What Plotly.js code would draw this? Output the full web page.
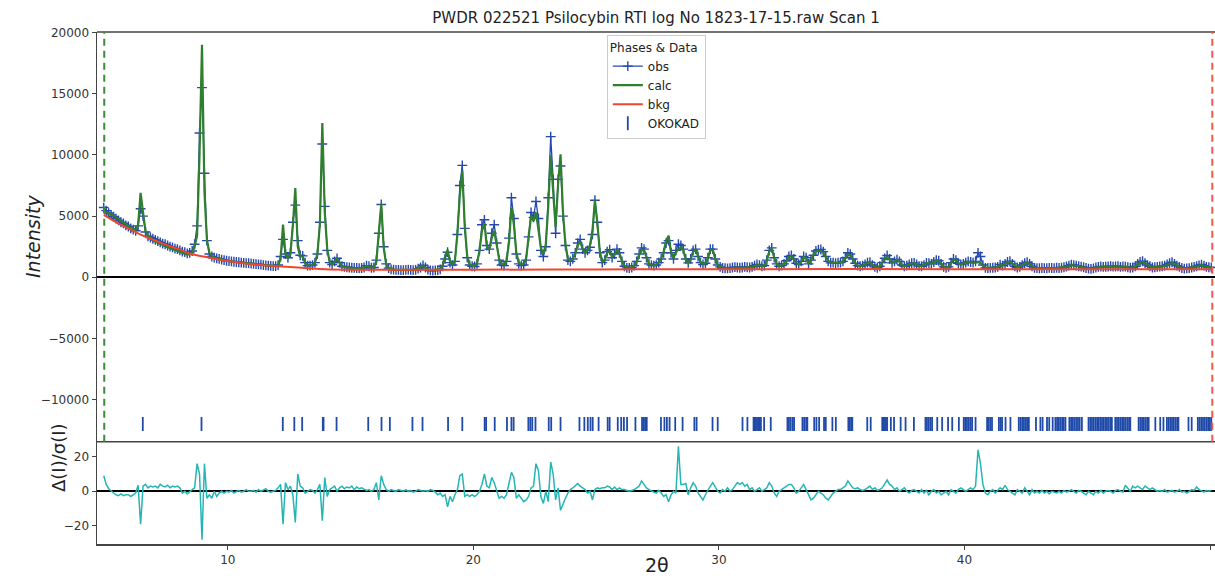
<!DOCTYPE html>
<html>
<head>
<meta charset="utf-8">
<script src="https://cdn.plot.ly/plotly-3.0.1.min.js"></script>
<style>html,body{margin:0;padding:0;background:#fff;}#chart{width:1215px;height:588px;}</style>
</head>
<body>
<div id="chart"></div>
<script>
// ---- Data (2-theta scan, constant step) ----
const tthStart = 4.95;
const tthStep = 0.1;

const obs = [
5700,5450,5250,5100,4950,4800,4650,4500,4400,4250,
4150,4000,3900,3800,4200,5600,5000,3700,3350,3250,
3150,3050,2950,2850,2750,2700,2600,2500,2450,2350,
2300,2200,2100,2050,1950,2000,2150,2700,4200,11800,
15500,8500,3000,1900,1700,1600,1550,1500,1450,1400,
1350,1320,1300,1270,1250,1230,1200,1180,1160,1150,
1120,1100,1080,1050,1030,1000,980,960,940,920,
920,1000,1700,3100,1900,1600,2000,4500,5900,3000,
1800,1750,1200,950,950,1000,1200,1900,4500,10900,
5800,2200,1200,1050,1300,1550,1200,900,850,820,
800,780,770,760,750,760,800,950,900,780,
800,1400,3600,5950,2500,1100,750,650,620,600,
600,590,580,600,620,600,580,600,700,800,
980,800,620,560,550,560,580,650,900,1500,
2050,1200,1000,1300,3500,7500,9150,4000,1600,1000,
900,880,1100,2200,4300,4700,2600,2300,3600,4300,
2800,1400,1000,950,1300,3200,6500,4800,1900,1100,
950,1000,1400,3300,5300,4900,6200,4800,2200,1700,
2500,6500,11500,8000,3600,8000,9100,5000,2600,1400,
1300,1500,2000,2800,3100,2300,2000,2200,2450,3500,
6300,4500,2000,1200,1400,2100,2250,1600,1900,2300,
2000,1300,900,770,760,800,950,1300,1900,2400,
2300,1600,1100,1000,960,1000,1200,1500,2000,2800,
3000,2000,1500,2200,2700,2600,2300,1500,1180,1500,
2200,2300,1700,1200,1050,1150,1600,2300,2300,1500,
1000,850,760,740,730,750,800,830,800,780,
800,850,820,800,850,950,1050,1000,900,950,
1400,2200,2400,1600,1100,900,950,1100,1350,1700,
1780,1500,1150,1050,1300,1700,1600,1100,1400,1800,
2150,2250,2270,2100,1700,1300,1180,1200,1150,1200,
1200,1300,1600,2000,1900,1500,1150,950,900,950,
1050,1200,1230,1000,850,780,900,1200,1550,1780,
1500,1180,1300,1450,1300,1000,900,950,1050,1150,
1180,1050,920,900,1000,1180,1150,1100,1250,1400,
1350,1100,850,770,850,1200,1500,1400,1150,1040,
1100,1200,1300,1250,1200,1300,2000,1700,1000,770,
760,770,780,800,850,1040,950,1100,1250,1310,
1100,900,800,850,1000,1150,1230,1100,900,770,
750,740,760,750,740,770,760,750,780,760,
780,820,880,950,1040,1000,950,900,870,820,
760,700,680,720,800,850,880,850,860,880,
900,870,880,900,850,880,870,820,780,800,
900,1100,1250,1310,1150,1000,900,800,820,850,
880,900,950,1050,1150,1230,1100,950,850,760,
700,720,750,800,850,900,980,1040,950,850,
820,800
];

const calc = [
5450,5300,5200,5150,5050,4900,4750,4600,4500,4350,
4200,4050,3950,3850,4300,6900,5300,3800,3400,3250,
3000,2900,2800,2700,2600,2550,2450,2380,2320,2250,
2150,2060,1980,1920,1860,1880,2000,2500,3400,10000,
19000,7000,3100,2000,1750,1620,1560,1500,1460,1410,
1340,1320,1300,1270,1250,1225,1200,1180,1160,1145,
1115,1100,1080,1050,1030,1005,985,965,945,930,
920,980,1500,4300,1900,1550,1900,4200,7300,2500,
1700,1700,1150,950,950,1000,1200,1900,4300,12600,
5300,2300,1250,1050,1250,1500,1200,900,830,800,
780,760,750,740,740,750,790,930,880,770,
780,1250,3900,6000,2400,1050,740,660,630,610,
620,610,600,610,620,610,600,620,760,850,
950,760,620,580,570,570,600,700,1000,1700,
2250,1350,1050,1350,3600,6700,8700,4200,1700,1050,
950,920,1150,2150,3800,4400,2500,2250,3200,3800,
2700,1500,1100,1050,1350,2800,5700,4300,2000,1200,
1050,1150,1550,3300,5000,4600,5300,3900,2400,1900,
2700,5800,10000,7000,4100,7600,10050,5300,2700,1500,
1350,1550,1900,2600,2950,2300,2000,2250,2600,3800,
6300,4400,2100,1250,1400,2000,2150,1650,1850,2200,
1950,1350,950,800,780,800,930,1250,1800,2250,
2200,1550,1100,1000,980,1050,1250,1550,2100,3000,
3400,2100,1550,2050,2300,2450,2200,1450,1150,1450,
2100,2250,1750,1250,1100,1150,1550,2200,2250,1500,
1000,860,770,740,730,740,780,800,780,770,
780,820,800,790,830,930,1020,980,890,940,
1350,2100,2300,1650,1100,920,950,1080,1300,1650,
1750,1480,1150,1050,1250,1650,1580,1150,1350,1850,
2100,2200,2150,2000,1700,1350,1200,1220,1180,1200,
1200,1280,1550,1850,1800,1450,1150,960,910,950,
1050,1180,1200,1000,860,800,900,1180,1500,1650,
1450,1200,1300,1420,1280,1000,900,950,1050,1130,
1150,1050,930,910,1000,1150,1150,1100,1230,1380,
1330,1100,880,800,860,1180,1450,1380,1150,1050,
1100,1200,1280,1230,1180,1200,1250,1150,950,780,
770,780,790,800,840,1000,960,1080,1230,1280,
1100,920,820,860,1000,1130,1200,1080,900,790,
760,750,760,755,750,765,760,755,770,765,
780,810,860,930,1000,980,940,900,860,820,
770,720,700,730,800,840,860,850,860,870,
880,870,870,880,860,870,860,820,790,800,
880,1050,1200,1250,1120,990,890,810,820,840,
870,890,930,1030,1120,1180,1080,940,850,770,
720,730,750,790,840,880,950,1000,930,850,
820,810
];

const diff = [
9,4,1.5,0,-1,-2,-2.5,-1.5,-2.5,-2,
-2,-3,-2,-1,3.5,-19,3,4,2,3,
2.5,3,2,4,3,2.5,3.5,2,3,2.5,
3,2,-1,0,-1.5,0,1,2,16,10,
-28,16,-4,-2,-4,0,-3,-1,0,-1,
0,-0.5,0.5,-1,0,0.5,-0.5,0,1,0,
0,0.5,-0.5,1,0,1,1.5,0,-0.5,0,
0.5,2,4,-19,5,1,3,-2,-18,10,
3,2,-1,0,1,0.5,-1,1,4,-17,
8,-3,1,2,3,0,2,3,1.5,2.5,
2,3,1,2.5,1.5,2,1,0.5,1,0,
1,5,-5,9,4,1,0,1,0.5,0,
1,0.5,0,1,0,0.5,-0.5,0,1,0.5,
0,0.5,0,1,0.5,-0.5,-2,-1,-3,-2,
-9,-3,-6,-2,1,9,10,-3,-2,-3,
-2,-3,-2,0,4,10,3,2,8,5,
0,-4,-3,-4,-2,4,11,8,-4,-2,
-4,-6,-5,-3,2,3,16,12,-3,-7,
0,-6,17,10,-5,2,-11,-7,-4,-1,
1,2,3,4.5,3,2,1,-1,0,-5,
1,2,1.5,2,2,3,2.5,1,2.5,1,
2,1,1,0.5,0,0.5,1,2,3,6,
4,2,1,0,-0.5,-1,0.5,-1,-3,-2,
-6,-2,0,-1,26,4,4,4.5,-2,2,
5,3,-1,-3,-5,-2,1,3,5,2,
0,-1,1,0,2,0,1,3,5,4,
5,3,4,1,2,0,1,2,0,1,
2,5,3,-1,-3,0,1,2,3,4,
4,2,-1,0,2,4,1,-2,-5,-4,
-2,0,-1,-2,-4,-5,-3,-1,0,1,
1,2,3,6,4,2,1.5,2,1,0.5,
1,2,3,1,2,0.5,1,2,4,6.5,
4,3,1,2,0,1,2,0,-1,0.5,
1,0,-1,1,-1,0.5,-2,0,1,-1,
0,-2,-1,0,-2,1,0,-1,1,2,
1,0,1,2,1,3,24,16,4,-1,
-2,0,1,-1,0.5,2,1,3.5,1,0,
-1,-2,1,0,-1,2,0,-2,1,-1,
0,-1,0.5,-1,0,-1.5,0,-0.5,-1,0,
-1,0.5,-0.5,0,1,0,-1,0.5,0,-1,
-2,0,-1,-2,0,-1,0.5,-1,0,0.5,
0,-1,0.5,1,0,-0.5,3.5,2,0,3,
2,3,2,1,3,2,1,2,1,0,
0.5,0,1,-0.5,0,0.5,-0.5,0,1,-0.5,
0,-1,0,1,0.5,2.5,1,0,-0.5,0.5,
0,0.5
];

const bkgX = [4.95,5.5,6,6.5,7,7.5,8,8.5,9,9.5,10,11,12,13,14,15,16,18,20,25,30,35,40,45,50.05];
const bkgY = [5100,4450,3950,3450,3050,2650,2300,1900,1700,1500,1330,1060,910,780,660,620,610,610,620,640,660,670,665,660,650];

const okokadTicks = [6.54,8.93,12.24,12.71,13.03,13.87,13.9,14.43,15.72,16.26,16.6,17.52,17.93,18.97,19.55,
20.46,20.52,20.87,21.37,21.55,21.64,22.24,22.32,22.4,22.53,23.07,23.17,23.55,24.32,24.52,24.66,24.77,24.86,
25.1,25.47,25.55,25.88,26.02,26.13,26.26,26.6,26.87,26.94,27.0,27.06,27.64,27.78,27.88,27.99,28.22,28.52,
29.0,29.09,29.74,29.95,30.96,31.16,31.41,31.45,31.5,31.55,31.6,31.65,31.71,31.84,32.11,32.79,32.85,32.92,
33.0,33.06,33.4,33.47,33.55,33.6,33.88,33.97,34.08,34.28,34.35,34.62,34.76,35.27,35.32,35.38,35.43,36.04,
36.18,36.65,36.7,36.75,36.8,36.85,37.0,37.13,37.4,37.6,37.94,38.41,38.47,38.54,38.61,38.68,38.89,39.09,
39.33,39.5,39.77,39.97,40.03,40.1,40.17,40.24,40.31,40.45,40.92,40.98,41.05,41.12,41.4,41.47,41.53,41.67,
41.87,42.21,42.28,42.35,42.42,42.49,42.55,42.62,42.91,43.09,43.18,43.36,43.45,43.59,43.7,43.77,43.84,43.91,
43.98,44.04,44.11,44.27,44.34,44.41,44.48,44.55,44.62,44.69,44.78,45.05,45.12,45.19,45.26,45.33,45.4,45.46,
45.53,45.6,45.67,45.74,45.8,45.87,45.94,46.0,46.14,46.21,46.28,46.35,46.42,46.49,46.56,46.63,46.7,46.75,
47.09,47.16,47.23,47.3,47.37,47.44,47.5,47.77,47.97,48.1,48.24,48.31,48.38,48.45,48.52,48.59,48.66,48.71,
49.12,49.25,49.5,49.57,49.64,49.71,49.78,49.85,49.92,49.99,50.05];

const limits = [4.97, 50.09];
const titleText = 'PWDR 022521 Psilocybin RTI log No 1823-17-15.raw Scan 1';
const intensityTicks = [-10000, -5000, 0, 5000, 10000, 15000, 20000];
const intensityTickText = ['\u221210000', '\u22125000', '0', '5000', '10000', '15000', '20000'];
const diffTicks = [-20, 0, 20];
const diffTickText = ['\u221220', '0', '20'];

// ---- Build ----
const tth = obs.map((_, i) => +(tthStart + i * tthStep).toFixed(2));
const tickRowY = -12000;

const blue = '#2548b0', green = '#2f7f2f', red = '#f0462d', cyan = '#26b5b5';
const FONT = 'DejaVu Sans, sans-serif';

const traces = [
  {x: tth, y: obs, type: 'scatter', mode: 'lines+markers', name: 'obs', xaxis: 'x', yaxis: 'y2',
   line: {color: blue, width: 1.3},
   marker: {symbol: 'cross-thin', size: 7, color: blue, line: {color: blue, width: 1.4}}},
  {x: tth, y: calc, type: 'scatter', mode: 'lines', name: 'calc', xaxis: 'x', yaxis: 'y2',
   line: {color: green, width: 2.2}},
  {x: bkgX, y: bkgY, type: 'scatter', mode: 'lines', name: 'bkg', xaxis: 'x', yaxis: 'y2',
   line: {color: red, width: 2, shape: 'spline'}},
  {x: okokadTicks, y: okokadTicks.map(() => tickRowY), type: 'scatter', mode: 'markers', name: 'OKOKAD',
   xaxis: 'x', yaxis: 'y2',
   marker: {symbol: 'line-ns', size: 10, color: '#1f4aa8', line: {color: '#1f4aa8', width: 1.8}}},
  {x: tth, y: diff, type: 'scatter', mode: 'lines', name: 'diff', xaxis: 'x', yaxis: 'y', showlegend: false,
   line: {color: cyan, width: 1.5}}
];

const split = 0.1998;
const axisLine = '#444';

const layout = {
  width: 1215, height: 588,
  margin: {l: 97, r: 0, t: 32, b: 44},
  paper_bgcolor: '#fff', plot_bgcolor: '#fff',
  font: {family: FONT, size: 12, color: '#333'},
  showlegend: true,
  title: {text: titleText, font: {family: FONT, size: 15, color: '#222'},
          xref: 'paper', x: 0.5, xanchor: 'center', yref: 'container', y: 1 - 18/588, yanchor: 'middle'},
  xaxis: {domain: [0, 1], anchor: 'y', range: [4.675, 50.2], showgrid: false, zeroline: false,
          showline: true, linecolor: axisLine, linewidth: 1.5, ticks: 'outside', ticklen: 4, tickcolor: axisLine,
          tickvals: [10, 20, 30, 40, 50], tickfont: {size: 12, color: '#333'}},
  yaxis: {domain: [0, split], anchor: 'x', range: [-30.5, 28.7], showgrid: false,
          zeroline: true, zerolinecolor: '#000', zerolinewidth: 2,
          showline: true, linecolor: axisLine, linewidth: 1.5, ticks: 'outside', ticklen: 4, tickcolor: axisLine,
          tickvals: diffTicks, ticktext: diffTickText, tickfont: {size: 12, color: '#333'}},
  xaxis2: {domain: [0, 1], anchor: 'y2', range: [4.675, 50.2], showgrid: false, zeroline: false,
           showline: false, ticks: '', showticklabels: false},
  yaxis2: {domain: [split, 1], anchor: 'x2', range: [-13440, 20050], showgrid: false,
           zeroline: true, zerolinecolor: '#000', zerolinewidth: 2,
           showline: true, linecolor: axisLine, linewidth: 1.5, ticks: 'outside', ticklen: 4, tickcolor: axisLine,
           tickvals: intensityTicks, ticktext: intensityTickText, tickfont: {size: 12, color: '#333'}},
  legend: {x: 0.456, y: 0.994, xanchor: 'left', yanchor: 'top', bgcolor: '#fff', bordercolor: '#ccc', borderwidth: 1,
           font: {family: FONT, size: 12, color: '#222'},
           title: {text: 'Phases & Data', font: {family: FONT, size: 12, color: '#222'}},
           tracegroupgap: 0, itemwidth: 30},
  shapes: [
    {type: 'line', xref: 'paper', yref: 'paper', x0: 0, x1: 1, y0: 1, y1: 1,
     line: {color: axisLine, width: 1.5}},
    {type: 'line', xref: 'paper', yref: 'paper', x0: 0, x1: 1, y0: split, y1: split,
     line: {color: axisLine, width: 1.5}},
    {type: 'line', xref: 'x', yref: 'paper', x0: limits[0], x1: limits[0], y0: split, y1: 1,
     line: {color: '#3c8c3c', width: 2, dash: '7px,5px'}},
    {type: 'line', xref: 'x', yref: 'paper', x0: limits[1], x1: limits[1], y0: split, y1: 1,
     line: {color: '#f05a4a', width: 2, dash: '7px,5px'}}
  ],
  annotations: [
    {text: 'Intensity', xref: 'paper', yref: 'paper', x: (20-97)/1118, y: (544-237)/512, showarrow: false,
     textangle: -90, font: {family: FONT, size: 19, color: '#222', style: 'italic'}},
    {text: 'Δ(I)/σ(I)', xref: 'paper', yref: 'paper', x: (46-97)/1118, y: (544-494)/512, showarrow: false,
     textangle: -90, font: {family: FONT, size: 18, color: '#222'}},
    {text: '2θ', xref: 'paper', yref: 'paper', x: (657-97)/1118, y: (544-578)/512, showarrow: false,
     font: {family: FONT, size: 19, color: '#222'}}
  ]
};

Plotly.newPlot('chart', traces, layout, {staticPlot: true, displayModeBar: false});
</script>
</body>
</html>
